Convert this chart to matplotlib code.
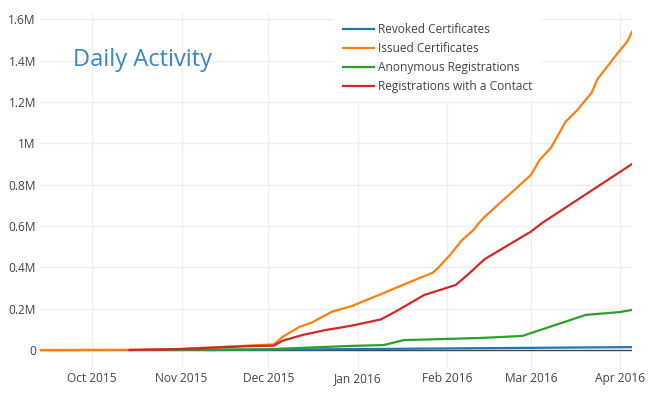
import matplotlib
matplotlib.use("Agg")
import matplotlib.pyplot as plt
import matplotlib.dates as mdates
from matplotlib.ticker import FuncFormatter
import pandas as pd

plt.rcParams['font.family'] = ['Open Sans', 'DejaVu Sans']

# values in millions
revoked_dates = ["2015-11-10", "2015-12-15", "2016-01-15", "2016-02-15", "2016-03-15", "2016-04-05"]
revoked = [0.0, 0.003, 0.006, 0.009, 0.012, 0.014]

issued_dates = ["2015-09-13", "2015-10-14", "2015-11-01", "2015-11-25", "2015-12-03", "2015-12-06",
                "2015-12-12", "2015-12-16", "2015-12-23", "2015-12-30", "2016-01-09", "2016-01-18",
                "2016-01-27", "2016-01-29", "2016-02-02", "2016-02-06", "2016-02-10", "2016-02-12",
                "2016-02-14", "2016-03-01", "2016-03-04", "2016-03-08", "2016-03-10", "2016-03-13",
                "2016-03-17", "2016-03-22", "2016-03-24", "2016-03-31", "2016-04-03", "2016-04-04",
                "2016-04-05"]
issued = [0.0, 0.001, 0.005, 0.022, 0.027, 0.064,
          0.113, 0.132, 0.185, 0.213, 0.27, 0.323,
          0.374, 0.40, 0.46, 0.53, 0.58, 0.615,
          0.645, 0.847, 0.92, 0.98, 1.03, 1.105,
          1.16, 1.245, 1.31, 1.436, 1.487, 1.51,
          1.54]

anon_dates = ["2015-10-28", "2015-12-01", "2015-12-30", "2016-01-10", "2016-01-17", "2016-02-12",
              "2016-02-27", "2016-03-20", "2016-04-01", "2016-04-05"]
anon = [0.0, 0.004, 0.02, 0.024, 0.048, 0.058,
        0.068, 0.17, 0.184, 0.194]

contact_dates = ["2015-10-14", "2015-11-01", "2015-11-25", "2015-12-03", "2015-12-06", "2015-12-13",
                 "2015-12-21", "2015-12-30", "2016-01-09", "2016-01-14", "2016-01-24", "2016-02-04",
                 "2016-02-08", "2016-02-14", "2016-03-01", "2016-03-05", "2016-04-05"]
contact = [0.0, 0.005, 0.019, 0.021, 0.045, 0.073,
           0.097, 0.118, 0.148, 0.185, 0.266, 0.315,
           0.363, 0.44, 0.573, 0.616, 0.90]

series = [
    ("Revoked Certificates", revoked_dates, revoked, "#1f77b4"),
    ("Issued Certificates", issued_dates, issued, "#ff7f0e"),
    ("Anonymous Registrations", anon_dates, anon, "#2ca02c"),
    ("Registrations with a Contact", contact_dates, contact, "#d62728"),
]

fig = plt.figure(figsize=(6.54, 3.96), dpi=100)
ax = fig.add_axes([40 / 654, 1 - 368 / 396, 592 / 654, 354 / 396])

for name, d, v, c in series:
    ax.plot(pd.to_datetime(d), v, color=c, lw=1.6, label=name, zorder=3,
            solid_joinstyle='round')

ax.axhline(0, color='#444444', lw=1, zorder=2)

ax.set_xlim(pd.Timestamp("2015-09-13"), pd.Timestamp("2016-04-05"))
ax.set_ylim(-0.087, 1.626)

ax.xaxis.set_major_locator(mdates.MonthLocator())
ax.xaxis.set_major_formatter(mdates.DateFormatter('%b %Y'))
ax.set_yticks([0, 0.2, 0.4, 0.6, 0.8, 1.0, 1.2, 1.4, 1.6])
ax.yaxis.set_major_formatter(FuncFormatter(lambda v, p: "0" if v == 0 else f"{v:g}M"))

ax.grid(True, color='#eeeeee', lw=1, zorder=0)
ax.set_axisbelow(True)
for s in ax.spines.values():
    s.set_visible(False)
ax.tick_params(length=0, colors='#444444', labelsize=8.6)
ax.tick_params(axis='y', pad=3)
ax.tick_params(axis='x', pad=3)

ax.text(0.055, 0.87, "Daily Activity", transform=ax.transAxes, fontsize=17,
        color='#3a87c7', va='center', ha='left')

leg = ax.legend(loc='upper left', bbox_to_anchor=(0.497, 1.0), frameon=True,
                fontsize=8.6, handlelength=2.6, handletextpad=0.35,
                labelspacing=0.5, borderpad=0.75, borderaxespad=0,
                fancybox=False)
leg.get_frame().set_edgecolor('none')
leg.get_frame().set_facecolor('white')
leg.get_frame().set_alpha(1)
for t in leg.get_texts():
    t.set_color('#444444')

fig.savefig("out.png", dpi=100)
